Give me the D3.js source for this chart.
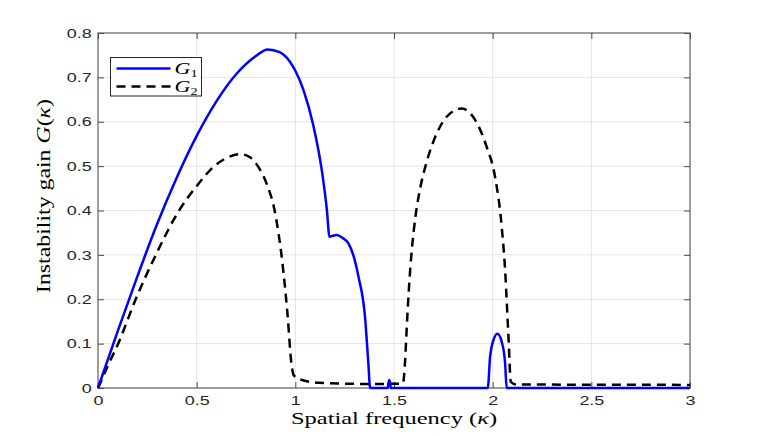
<!DOCTYPE html>
<html>
<head>
<meta charset="utf-8">
<script src="https://cdn.jsdelivr.net/npm/d3@7"></script>
<style>
  body { margin: 0; background: #fff; }
  svg { display: block; }
</style>
</head>
<body>
<div id="chart"></div>
<script>
// Curve G1 (solid blue)
var kappa1 = [0, 0.1, 0.2, 0.3, 0.4, 0.5, 0.6, 0.7, 0.8, 0.86, 0.92,
  0.97, 1.0, 1.041, 1.091, 1.134, 1.16, 1.173, 1.19, 1.21, 1.24, 1.269, 1.3, 1.32, 1.353, 1.37, 1.379,
  1.468, 1.472, 1.476, 1.48, 1.484, 1.975, 1.987, 2.004, 2.024, 2.046, 2.063, 2.071, 3];
var g1 = [0, 0.128, 0.252, 0.37, 0.475, 0.568, 0.646, 0.707, 0.748, 0.763, 0.757,
  0.737, 0.715, 0.672, 0.592, 0.491, 0.401, 0.341, 0.343, 0.345, 0.338, 0.326, 0.29, 0.251, 0.161, 0.056, 0,
  0, 0.012, 0.018, 0.012, 0, 0, 0.07, 0.108, 0.122, 0.104, 0.056, 0, 0];

// Curve G2 (dashed black)
var kappa2 = [0, 0.05, 0.107, 0.191, 0.293, 0.411, 0.5, 0.59, 0.65, 0.72, 0.77, 0.81, 0.855, 0.895, 0.935,
  0.96, 0.98, 0.993, 1.02, 1.12, 1.38, 1.545, 1.556, 1.565, 1.575, 1.59, 1.61, 1.635, 1.666, 1.717, 1.775,
  1.843, 1.911, 1.97, 2.012, 2.046, 2.063, 2.08, 2.092, 2.12, 3];
var g2 = [0, 0.05, 0.105, 0.2, 0.3, 0.4, 0.455, 0.5, 0.518, 0.527, 0.52, 0.5, 0.46, 0.4, 0.28,
  0.168, 0.056, 0.028, 0.02, 0.012, 0.009, 0.01, 0.06, 0.14, 0.22, 0.31, 0.39, 0.455, 0.51, 0.574, 0.615,
  0.63, 0.604, 0.543, 0.476, 0.363, 0.266, 0.116, 0.014, 0.008, 0.007];

var xTicks = [0, 0.5, 1, 1.5, 2, 2.5, 3];
var yTicks = [0, 0.1, 0.2, 0.3, 0.4, 0.5, 0.6, 0.7, 0.8];
var seriesNames = ["1", "2"];

var W = 763, H = 436;
var margin = { top: 33, right: 73, bottom: 48, left: 98 };
var width = W - margin.left - margin.right;
var height = H - margin.top - margin.bottom;
// the picture's texts are stretched sideways
var stretch = 1.4;

var svg = d3.select("#chart").append("svg")
  .attr("width", W)
  .attr("height", H);

var g = svg.append("g")
  .attr("transform", "translate(" + margin.left + "," + margin.top + ")");

var x = d3.scaleLinear().domain([0, 3]).range([0, width]);
var y = d3.scaleLinear().domain([0, 0.8]).range([height, 0]);

// grid
g.append("g").selectAll("line.gx").data(xTicks).enter().append("line")
  .attr("x1", function(d) { return x(d); }).attr("x2", function(d) { return x(d); })
  .attr("y1", 0).attr("y2", height)
  .attr("stroke", "#e3e3e3").attr("stroke-width", 1);
g.append("g").selectAll("line.gy").data(yTicks).enter().append("line")
  .attr("y1", function(d) { return y(d); }).attr("y2", function(d) { return y(d); })
  .attr("x1", 0).attr("x2", width)
  .attr("stroke", "#e3e3e3").attr("stroke-width", 1);

// axes (ticks pointing inward, on all four sides)
var axisColor = "#4d4d4d";
function styleAxis(sel, showText) {
  sel.select(".domain").remove();
  sel.selectAll("line").attr("stroke", axisColor);
  sel.selectAll("text")
    .attr("fill", "#262626")
    .attr("transform", "scale(1.38,1)")
    .style("font-family", "'Liberation Sans', Arial, sans-serif")
    .style("font-size", "13px");
  if (!showText) sel.selectAll("text").remove();
}
var fmt = function(d) { return d3.format("")(d); };

g.append("g").attr("transform", "translate(0," + height + ")")
  .call(d3.axisBottom(x).tickValues(xTicks).tickFormat(fmt).tickSizeInner(-6).tickPadding(7.5))
  .call(styleAxis, true);
g.append("g")
  .call(d3.axisTop(x).tickValues(xTicks).tickSizeInner(-6))
  .call(styleAxis, false);
g.append("g")
  .call(d3.axisLeft(y).tickValues(yTicks).tickFormat(fmt).tickSizeInner(-6).tickPadding(4.6))
  .call(styleAxis, true);
g.append("g").attr("transform", "translate(" + width + ",0)")
  .call(d3.axisRight(y).tickValues(yTicks).tickSizeInner(-6))
  .call(styleAxis, false);

g.append("rect")
  .attr("x", 0).attr("y", 0).attr("width", width).attr("height", height)
  .attr("fill", "none").attr("stroke", axisColor).attr("stroke-width", 1);

// curves
var line = d3.line()
  .curve(d3.curveMonotoneX)
  .x(function(d) { return x(d[0]); })
  .y(function(d) { return y(d[1]); });

g.append("path")
  .datum(d3.zip(kappa2, g2))
  .attr("d", line)
  .attr("fill", "none")
  .attr("stroke", "#000")
  .attr("stroke-width", 2.5)
  .attr("stroke-dasharray", "9,6");

g.append("path")
  .datum(d3.zip(kappa1, g1))
  .attr("d", line)
  .attr("fill", "none")
  .attr("stroke", "#0000ff")
  .attr("stroke-width", 2.5)
  .attr("stroke-linejoin", "round");

// axis labels
var serif = "'Liberation Serif', 'DejaVu Serif', serif";
var xl = svg.append("g")
  .attr("transform", "translate(" + (margin.left + width / 2) + ",424) scale(" + stretch + ",1)")
  .append("text")
  .attr("text-anchor", "middle")
  .style("font-family", serif)
  .style("font-size", "17.5px")
  .attr("fill", "#000");
xl.append("tspan").text("Spatial frequency (");
xl.append("tspan").style("font-style", "italic").text("κ");
xl.append("tspan").text(")");

// rotated label: same length as the reference's
var yl = svg.append("g")
  .attr("transform", "translate(50,196) rotate(-90)")
  .append("text")
  .attr("text-anchor", "middle")
  .attr("textLength", 194)
  .attr("lengthAdjust", "spacingAndGlyphs")
  .style("font-family", serif)
  .style("font-size", "19px")
  .attr("fill", "#000");
yl.append("tspan").text("Instability gain ");
yl.append("tspan").style("font-style", "italic").text("G");
yl.append("tspan").text("(");
yl.append("tspan").style("font-style", "italic").text("κ");
yl.append("tspan").text(")");

// legend
var leg = svg.append("g").attr("transform", "translate(110.5,57.5)");
leg.append("rect")
  .attr("width", 91).attr("height", 38.5)
  .attr("fill", "#fff").attr("stroke", "#262626").attr("stroke-width", 1);
var legStyles = [
  { color: "#0000ff", dash: null },
  { color: "#000", dash: "9,6" }
];
seriesNames.forEach(function(name, i) {
  var yy = 11 + i * 18;
  leg.append("line")
    .attr("x1", 6).attr("x2", 60).attr("y1", yy).attr("y2", yy)
    .attr("stroke", legStyles[i].color).attr("stroke-width", 2.5)
    .attr("stroke-dasharray", legStyles[i].dash);
  var t = leg.append("g")
    .attr("transform", "translate(64," + (yy + 5) + ") scale(1.3,1)")
    .append("text")
    .style("font-family", serif)
    .style("font-size", "17px")
    .attr("fill", "#000");
  t.append("tspan").style("font-style", "italic").text("G");
  t.append("tspan").attr("dy", 3).style("font-size", "11px").text(name);
});
</script>
</body>
</html>
